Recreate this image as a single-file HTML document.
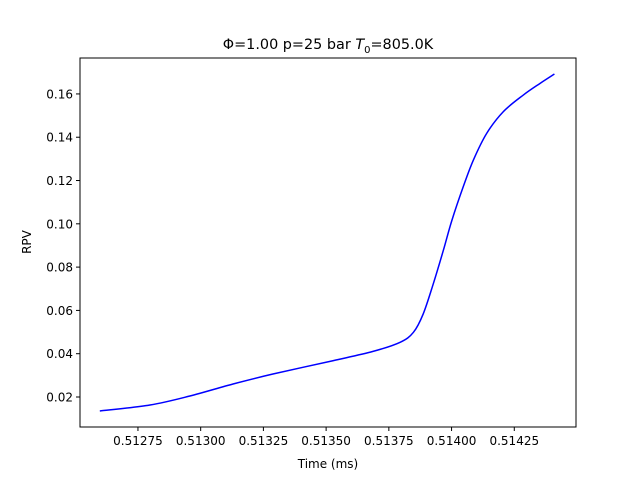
<!DOCTYPE html>
<html><head><meta charset="utf-8"><style>
body{margin:0;background:#fff}
svg text{font-family:"DejaVu Sans","Liberation Sans",sans-serif;fill:#000}
</style></head><body>
<svg id="chart" width="640" height="480" xmlns="http://www.w3.org/2000/svg">
<rect width="640" height="480" fill="#fff"/>
<text x="328" y="49" font-size="14.4" text-anchor="middle">Φ=1.00 p=25 bar <tspan font-style="italic">T</tspan><tspan font-size="10" dy="4">0</tspan><tspan dy="-4">=805.0K</tspan></text>
<g id="plot"></g>
<rect x="80" y="58" width="496" height="369" fill="none" stroke="#000" stroke-width="1"/>
<text x="328" y="468" font-size="12" text-anchor="middle">Time (ms)</text>
<text x="31" y="242" font-size="12" text-anchor="middle" transform="rotate(-90 31 242)">RPV</text>
</svg>
<script>
const timeValues=[0.512598,0.512798,0.512957,0.513129,0.513288,0.513527,0.513687,0.513795,0.513848,0.513887,0.513927,0.513967,0.514001,0.514047,0.514087,0.514140,0.514206,0.514286,0.514353,0.514410];
const rpvValues=[0.01353,0.01630,0.02046,0.02600,0.03062,0.03676,0.04106,0.04526,0.04988,0.05838,0.07223,0.08763,0.10148,0.11727,0.12947,0.14179,0.15179,0.15949,0.16489,0.16919];
const xTicks=[0.51275,0.51300,0.51325,0.51350,0.51375,0.51400,0.51425];
const xTickLabels=["0.51275","0.51300","0.51325","0.51350","0.51375","0.51400","0.51425"];
const yTicks=[0.02,0.04,0.06,0.08,0.10,0.12,0.14,0.16];
const yTickLabels=["0.02","0.04","0.06","0.08","0.10","0.12","0.14","0.16"];

const NS="http://www.w3.org/2000/svg";
const X0=80,X1=576,Y0=427,Y1=58;
const xMin=0.512519,xMax=0.514496,yMin=0.00614,yMax=0.1766;
const sx=v=>X0+(v-xMin)/(xMax-xMin)*(X1-X0);
const sy=v=>Y0-(v-yMin)/(yMax-yMin)*(Y0-Y1);
const g=document.getElementById('plot');
function mk(t,a){const e=document.createElementNS(NS,t);for(const k in a)e.setAttribute(k,a[k]);g.appendChild(e);return e;}
xTicks.forEach((v,i)=>{
  const x=sx(v);
  const l=mk('line',{x1:x,x2:x,y1:Y0,y2:Y0+4,stroke:'#000'});
  
  
  const t=mk('text',{x:x,y:Y0+18,'font-size':12,'text-anchor':'middle'});
  t.textContent=xTickLabels[i];
  
  
});
yTicks.forEach((v,i)=>{
  const y=sy(v);
  const l=mk('line',{x1:X0-4,x2:X0,y1:y,y2:y,stroke:'#000'});
  
  
  const t=mk('text',{x:X0-7,y:y+4.5,'font-size':12,'text-anchor':'end'});
  t.textContent=yTickLabels[i];
  
  
});
const pts=timeValues.map((t,i)=>[sx(t),sy(rpvValues[i])]);
let d='M'+pts[0][0]+','+pts[0][1];
for(let i=0;i<pts.length-1;i++){
  const p0=pts[Math.max(0,i-1)],p1=pts[i],p2=pts[i+1],p3=pts[Math.min(pts.length-1,i+2)];
  const c1=[p1[0]+(p2[0]-p0[0])/6,p1[1]+(p2[1]-p0[1])/6];
  const c2=[p2[0]-(p3[0]-p1[0])/6,p2[1]-(p3[1]-p1[1])/6];
  d+=' C'+c1[0]+','+c1[1]+' '+c2[0]+','+c2[1]+' '+p2[0]+','+p2[1];
}
const path=mk('path',{d:d,fill:'none',stroke:'#0000ff','stroke-width':1.5});


</script>
</body></html>
